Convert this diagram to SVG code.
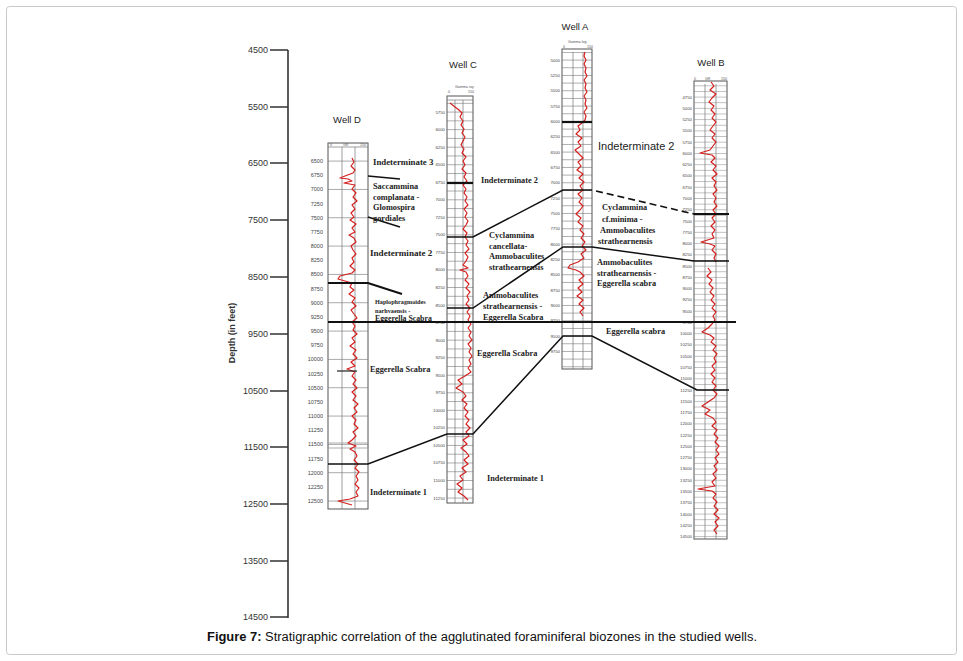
<svg xmlns="http://www.w3.org/2000/svg" width="963" height="661" viewBox="0 0 963 661">
<style>
.frame{fill:#fff;stroke:#c8c8c8;stroke-width:1}
.ax{stroke:#333;stroke-width:1.6;fill:none}
.axl{font-family:"Liberation Sans",Arial,sans-serif;font-size:9px;fill:#333;text-anchor:end}
.wl{font-family:"Liberation Sans",Arial,sans-serif;font-size:9.5px;fill:#222;text-anchor:middle}
.sc{font-family:"Liberation Sans",Arial,sans-serif;font-size:4.3px;fill:#444;text-anchor:end}
.scD{font-family:"Liberation Sans",Arial,sans-serif;font-size:5.5px;fill:#444;text-anchor:end}
.hd{font-family:"Liberation Sans",Arial,sans-serif;font-size:3.6px;fill:#555}
.box{fill:#fff;stroke:#555;stroke-width:1}
.gv{stroke:#777;stroke-width:0.7}
.gh{stroke:#777;stroke-width:0.7}
.tr{fill:none;stroke:#d3201f;stroke-width:1.2;stroke-linejoin:round}
.zl{font-family:"Liberation Serif","Times New Roman",serif;font-weight:bold;font-size:8.3px;fill:#222}
.big{font-family:"Liberation Sans",Arial,sans-serif;font-size:11px;fill:#222}
.cn{stroke:#111;stroke-width:1.5;fill:none}
.thk{stroke:#111;stroke-width:2.2;fill:none}
.dsh{stroke:#111;stroke-width:1.6;fill:none;stroke-dasharray:7 4}
.cap{font-family:"Liberation Sans",Arial,sans-serif;font-size:12px;fill:#111}
</style>
<defs>
<pattern id="gD" patternUnits="userSpaceOnUse" x="0" y="160.6" width="10" height="28.33"><line x1="0" y1="0.4" x2="10" y2="0.4" stroke="#777" stroke-width="0.7"/></pattern>
<pattern id="gC" patternUnits="userSpaceOnUse" x="0" y="111.6" width="10" height="8.772"><line x1="0" y1="0.4" x2="10" y2="0.4" stroke="#666" stroke-width="0.6"/></pattern>
<pattern id="gA" patternUnits="userSpaceOnUse" x="0" y="59.6" width="10" height="7.667"><line x1="0" y1="0.4" x2="10" y2="0.4" stroke="#666" stroke-width="0.6"/></pattern>
<pattern id="gB" patternUnits="userSpaceOnUse" x="0" y="96.6" width="10" height="5.635"><line x1="0" y1="0.4" x2="10" y2="0.4" stroke="#777" stroke-width="0.5"/></pattern>
</defs>
<rect class="frame" x="6.5" y="6.5" width="950" height="648" rx="3"/>

<g id="depth-axis">
<line class="ax" x1="288" y1="50" x2="288" y2="618"/>
<path class="ax" d="M270 50H288M270 107H288M270 163H288M270 220H288M270 277H288M270 334H288M270 391H288M270 447H288M270 504H288M270 561H288M270 617H288"/>
<text class="axl" x="268" y="53">4500</text>
<text class="axl" x="268" y="110">5500</text>
<text class="axl" x="268" y="166">6500</text>
<text class="axl" x="268" y="223">7500</text>
<text class="axl" x="268" y="280">8500</text>
<text class="axl" x="268" y="337">9500</text>
<text class="axl" x="268" y="394">10500</text>
<text class="axl" x="268" y="450">11500</text>
<text class="axl" x="268" y="507">12500</text>
<text class="axl" x="268" y="564">13500</text>
<text class="axl" x="268" y="620">14500</text>
<text x="235" y="333" transform="rotate(-90 235 333)" style="font-family:'Liberation Sans',Arial,sans-serif;font-size:9px;font-weight:bold;fill:#333;text-anchor:middle">Depth (in feet)</text>
</g>

<g id="well-D">
<text class="wl" x="347" y="123">Well D</text>
<rect class="box" x="328" y="143" width="40" height="366"/>
<rect x="328" y="147" width="40" height="362" fill="url(#gD)"/>
<line class="gh" x1="328" y1="147" x2="368" y2="147"/>
<line class="gv" x1="342" y1="147" x2="342" y2="509"/>
<line class="gv" x1="355" y1="147" x2="355" y2="509"/>
<rect x="328" y="443" width="40" height="5" fill="none" stroke="#999" stroke-width="0.8"/>
<text class="hd" x="330" y="146">0</text><text class="hd" x="343" y="146">GR</text><text class="hd" x="360" y="146">150</text>
<g>
<text class="scD" x="323" y="163">6500</text><text class="scD" x="323" y="177.2">6750</text><text class="scD" x="323" y="191.3">7000</text><text class="scD" x="323" y="205.5">7250</text><text class="scD" x="323" y="219.7">7500</text><text class="scD" x="323" y="233.8">7750</text><text class="scD" x="323" y="248">8000</text><text class="scD" x="323" y="262.2">8250</text><text class="scD" x="323" y="276.3">8500</text><text class="scD" x="323" y="290.5">8750</text><text class="scD" x="323" y="304.7">9000</text><text class="scD" x="323" y="318.8">9250</text><text class="scD" x="323" y="333">9500</text><text class="scD" x="323" y="347.2">9750</text><text class="scD" x="323" y="361.3">10000</text><text class="scD" x="323" y="375.5">10250</text><text class="scD" x="323" y="389.7">10500</text><text class="scD" x="323" y="403.8">10750</text><text class="scD" x="323" y="418">11000</text><text class="scD" x="323" y="432.2">11250</text><text class="scD" x="323" y="446.3">11500</text><text class="scD" x="323" y="460.5">11750</text><text class="scD" x="323" y="474.7">12000</text><text class="scD" x="323" y="488.8">12250</text><text class="scD" x="323" y="503">12500</text>
</g>
<polyline class="tr" points="352,158 354,162 351,166 355,170 353,173 345,176 340,178 348,179 352,181 344,183 355,185 352,189 356,193 353,197 357,201 352,205 355,209 351,213 354,217 350,220 356,224 352,228 355,232 349,235 354,238 356,242 351,246 353,250 356,254 352,258 354,262 350,266 355,270 352,273 340,276 338,279 345,281 352,283 350,287 354,290 349,294 355,298 352,302 356,306 351,310 354,314 357,318 352,322 355,326 353,330 357,334 352,338 355,342 350,346 356,350 353,354 357,358 351,362 355,366 347,369 355,372 352,376 356,380 353,384 357,388 352,392 356,396 353,400 358,404 354,408 357,412 352,416 356,420 354,424 358,428 353,432 356,436 352,440 348,443 356,446 350,449 355,452 357,456 354,460 358,464 355,468 359,472 356,476 358,480 355,484 359,488 356,492 358,496 350,499 338,501 345,503 352,505"/>
<line x1="337" y1="371" x2="357" y2="371" stroke="#222" stroke-width="1.2"/>
</g>

<g id="well-C">
<text class="wl" x="463" y="68">Well C</text>
<text class="hd" x="455" y="88">Gamma ray</text>
<text class="hd" x="448" y="93">0</text><text class="hd" x="468" y="93">150</text>
<rect class="box" x="447" y="96" width="26" height="407"/>
<rect x="447" y="100" width="26" height="403" fill="url(#gC)"/>
<line class="gh" x1="447" y1="100" x2="473" y2="100"/>
<line class="gv" x1="455" y1="100" x2="455" y2="503"/>
<line class="gv" x1="463" y1="100" x2="463" y2="503"/>
<g>
<text class="sc" x="445" y="113.5">5750</text><text class="sc" x="445" y="131">6000</text><text class="sc" x="445" y="148.6">6250</text><text class="sc" x="445" y="166.1">6500</text><text class="sc" x="445" y="183.7">6750</text><text class="sc" x="445" y="201.2">7000</text><text class="sc" x="445" y="218.8">7250</text><text class="sc" x="445" y="236.3">7500</text><text class="sc" x="445" y="253.9">7750</text><text class="sc" x="445" y="271.4">8000</text><text class="sc" x="445" y="289">8250</text><text class="sc" x="445" y="306.5">8500</text><text class="sc" x="445" y="324">8750</text><text class="sc" x="445" y="341.6">9000</text><text class="sc" x="445" y="359.1">9250</text><text class="sc" x="445" y="376.7">9500</text><text class="sc" x="445" y="394.2">9750</text><text class="sc" x="445" y="411.8">10000</text><text class="sc" x="445" y="429.3">10250</text><text class="sc" x="445" y="446.9">10500</text><text class="sc" x="445" y="464.4">10750</text><text class="sc" x="445" y="482">11000</text><text class="sc" x="445" y="499.5">11250</text>
</g>
<polyline class="tr" points="450,103 455,107 459,110 462,113 460,117 463,121 461,125 464,129 462,133 465,137 463,141 461,145 464,149 462,153 466,157 463,161 465,165 462,169 466,173 464,177 467,181 463,185 466,189 464,193 467,197 465,201 468,205 464,209 467,213 465,217 468,221 466,225 463,229 467,233 465,237 468,241 466,245 469,249 465,253 468,257 466,261 463,265 468,268 460,270 466,272 468,276 465,280 469,284 466,288 470,292 467,296 469,300 466,304 470,308 467,312 470,316 468,320 471,324 468,328 471,332 469,336 472,340 468,344 471,348 469,352 472,356 469,360 471,364 468,368 471,372 465,376 458,380 462,384 456,388 463,392 466,396 462,400 467,404 464,408 468,412 465,416 469,420 466,424 470,428 466,432 469,436 463,440 467,444 461,448 466,452 469,456 464,460 468,464 462,468 466,472 460,476 463,480 457,484 462,488 458,492 464,496 468,500"/>
</g>

<g id="well-A">
<text class="wl" x="575" y="30">Well A</text>
<text class="hd" x="568" y="43">Gamma log</text>
<text class="hd" x="563" y="48">0</text><text class="hd" x="587" y="48">150</text>
<rect class="box" x="562" y="49" width="30" height="320"/>
<rect x="562" y="52" width="30" height="317" fill="url(#gA)"/>
<line class="gv" x1="573" y1="52" x2="573" y2="369"/>
<line class="gv" x1="583" y1="52" x2="583" y2="369"/>
<g>
<text class="sc" x="560" y="61.5">5000</text><text class="sc" x="560" y="76.8">5250</text><text class="sc" x="560" y="92.2">5500</text><text class="sc" x="560" y="107.5">5750</text><text class="sc" x="560" y="122.8">6000</text><text class="sc" x="560" y="138.2">6250</text><text class="sc" x="560" y="153.5">6500</text><text class="sc" x="560" y="168.8">6750</text><text class="sc" x="560" y="184.2">7000</text><text class="sc" x="560" y="199.5">7250</text><text class="sc" x="560" y="214.8">7500</text><text class="sc" x="560" y="230.2">7750</text><text class="sc" x="560" y="245.5">8000</text><text class="sc" x="560" y="260.8">8250</text><text class="sc" x="560" y="276.2">8500</text><text class="sc" x="560" y="291.5">8750</text><text class="sc" x="560" y="306.8">9000</text><text class="sc" x="560" y="322.2">9250</text><text class="sc" x="560" y="337.5">9500</text><text class="sc" x="560" y="352.8">9750</text>
</g>
<polyline class="tr" points="585,52 584,56 586,60 584,64 586,68 585,72 587,76 584,80 586,84 585,88 587,92 584,96 586,100 585,104 587,108 584,112 586,116 585,120 582,123 578,126 580,130 576,134 582,138 578,142 581,146 575,150 579,154 583,158 578,162 581,166 577,170 583,174 579,178 584,182 580,186 583,190 578,194 582,198 579,202 583,206 580,210 576,214 581,218 578,222 583,226 580,230 584,234 581,238 585,242 582,246 586,250 581,254 584,258 578,262 570,265 568,268 576,270 580,272 584,276 579,280 583,284 578,288 582,292 577,296 583,300 579,304 584,308 580,312 583,316"/>
</g>

<g id="well-B">
<text class="wl" x="711" y="66">Well B</text>
<text class="hd" x="694" y="80">0</text><text class="hd" x="705" y="80">GR</text><text class="hd" x="721" y="80">150</text>
<rect class="box" x="694" y="81" width="33" height="458"/>
<rect x="694" y="84" width="33" height="455" fill="url(#gB)"/>
<line class="gv" x1="705" y1="84" x2="705" y2="539"/>
<line class="gv" x1="716" y1="84" x2="716" y2="539"/>
<g>
<text class="sc" x="692" y="98.5">4750</text><text class="sc" x="692" y="109.8">5000</text><text class="sc" x="692" y="121">5250</text><text class="sc" x="692" y="132.3">5500</text><text class="sc" x="692" y="143.6">5750</text><text class="sc" x="692" y="154.9">6000</text><text class="sc" x="692" y="166.1">6250</text><text class="sc" x="692" y="177.4">6500</text><text class="sc" x="692" y="188.7">6750</text><text class="sc" x="692" y="199.9">7000</text><text class="sc" x="692" y="211.2">7250</text><text class="sc" x="692" y="222.5">7500</text><text class="sc" x="692" y="233.7">7750</text><text class="sc" x="692" y="245">8000</text><text class="sc" x="692" y="256.3">8250</text><text class="sc" x="692" y="267.6">8500</text><text class="sc" x="692" y="278.8">8750</text><text class="sc" x="692" y="290.1">9000</text><text class="sc" x="692" y="301.4">9250</text><text class="sc" x="692" y="312.6">9500</text><text class="sc" x="692" y="323.9">9750</text><text class="sc" x="692" y="335.2">10000</text><text class="sc" x="692" y="346.4">10250</text><text class="sc" x="692" y="357.7">10500</text><text class="sc" x="692" y="369">10750</text><text class="sc" x="692" y="380.3">11000</text><text class="sc" x="692" y="391.5">11250</text><text class="sc" x="692" y="402.8">11500</text><text class="sc" x="692" y="414.1">11750</text><text class="sc" x="692" y="425.3">12000</text><text class="sc" x="692" y="436.6">12250</text><text class="sc" x="692" y="447.9">12500</text><text class="sc" x="692" y="459.1">12750</text><text class="sc" x="692" y="470.4">13000</text><text class="sc" x="692" y="481.7">13250</text><text class="sc" x="692" y="493">13500</text><text class="sc" x="692" y="504.2">13750</text><text class="sc" x="692" y="515.5">14000</text><text class="sc" x="692" y="526.8">14250</text><text class="sc" x="692" y="538">14500</text>
</g>
<polyline class="tr" points="711,82 714,86 710,90 716,94 712,98 709,102 714,106 711,110 715,114 712,118 716,122 713,126 710,130 715,134 712,138 716,142 713,146 710,150 700,153 712,155 715,158 711,162 716,166 713,170 717,174 712,178 716,182 714,186 717,190 713,194 716,198 714,202 717,206 713,210 716,214 712,218 715,222 711,226 715,230 712,234 714,238 701,242 710,244 715,246 712,250 716,254 714,258 716,262"/>
<polyline class="tr" points="708,268 711,272 707,276 712,280 709,284 713,288 710,292 714,296 711,300 715,304 712,308 716,312 713,316 715,320 712,324 708,328 702,332 710,335 714,338 711,342 716,346 713,350 717,354 714,358 716,362 712,366 715,370 711,374 715,378 712,382 716,386 713,390 717,394 714,398 708,402 702,406 710,410 705,414 713,418 716,422 712,426 717,430 714,434 718,438 715,442 719,446 716,450 719,454 715,458 718,462 714,466 717,470 713,474 716,478 712,482 715,486 698,489 712,491 716,494 713,498 717,502 714,506 718,510 714,514 719,518 715,522 718,526 714,530 717,534"/>
</g>

<g id="connectors">
<path class="cn" d="M368 176L400 179"/>
<path class="cn" d="M368 217L400 227"/>
<path class="thk" d="M328 283H368L402 294"/>
<path class="thk" d="M328 322H736"/>
<path class="cn" d="M328 464H368L447 434H473L563 336H592L697 390H729"/>
<path class="thk" d="M447 183H473"/>
<path class="cn" d="M447 237H473L563 190H592"/>
<path class="dsh" d="M596 191L694 214"/>
<path class="thk" d="M694 214H729"/>
<path class="cn" d="M447 308H473L563 247H592L694 261H729"/>
<path class="thk" d="M562 122H592"/>
</g>

<g id="zone-labels-D">
<text class="zl" x="373" y="165" style="font-size:8.8px">Indeterminate 3</text>
<text class="zl" x="373" y="189">Saccammina</text>
<text class="zl" x="373" y="199.5">complanata -</text>
<text class="zl" x="373" y="210">Glomospira</text>
<text class="zl" x="373" y="220.5">gordiales</text>
<text class="zl" x="370" y="256" style="font-size:9.1px">Indeterminate 2</text>
<text class="zl" x="375" y="304" style="font-size:6.2px">Haplophragmoides</text>
<text class="zl" x="375" y="312.5" style="font-size:6.2px">narhvaensis -</text>
<text class="zl" x="375" y="320.5" style="font-size:7.8px">Eggerella Scabra</text>
<text class="zl" x="370" y="372">Eggerella Scabra</text>
<text class="zl" x="370" y="495">Indeterminate 1</text>
</g>

<g id="zone-labels-C">
<text class="zl" x="481" y="183">Indeterminate 2</text>
<text class="zl" x="489" y="238">Cyclammina</text>
<text class="zl" x="489" y="249">cancellata-</text>
<text class="zl" x="489" y="259">Ammobaculites</text>
<text class="zl" x="489" y="269.5">strathearnensis</text>
<text class="zl" x="483" y="298">Ammobaculites</text>
<text class="zl" x="483" y="309">strathearnensis -</text>
<text class="zl" x="483" y="319.5">Eggerella Scabra</text>
<text class="zl" x="477" y="356">Eggerella Scabra</text>
<text class="zl" x="487" y="481">Indeterminate 1</text>
</g>

<g id="zone-labels-A">
<text class="big" x="598" y="150">Indeterminate 2</text>
<text class="zl" x="602" y="210">Cyclammina</text>
<text class="zl" x="602" y="222">cf.minima -</text>
<text class="zl" x="600" y="233">Ammobaculites</text>
<text class="zl" x="598" y="244">strathearnensis</text>
<text class="zl" x="597" y="265">Ammobaculites</text>
<text class="zl" x="597" y="276">strathearnensis -</text>
<text class="zl" x="597" y="286">Eggerella scabra</text>
<text class="zl" x="606" y="334">Eggerella scabra</text>
</g>

<text class="cap" x="207" y="641" textLength="550" lengthAdjust="spacingAndGlyphs"><tspan font-weight="bold">Figure 7:</tspan> Stratigraphic correlation of the agglutinated foraminiferal biozones in the studied wells.</text>
</svg>
